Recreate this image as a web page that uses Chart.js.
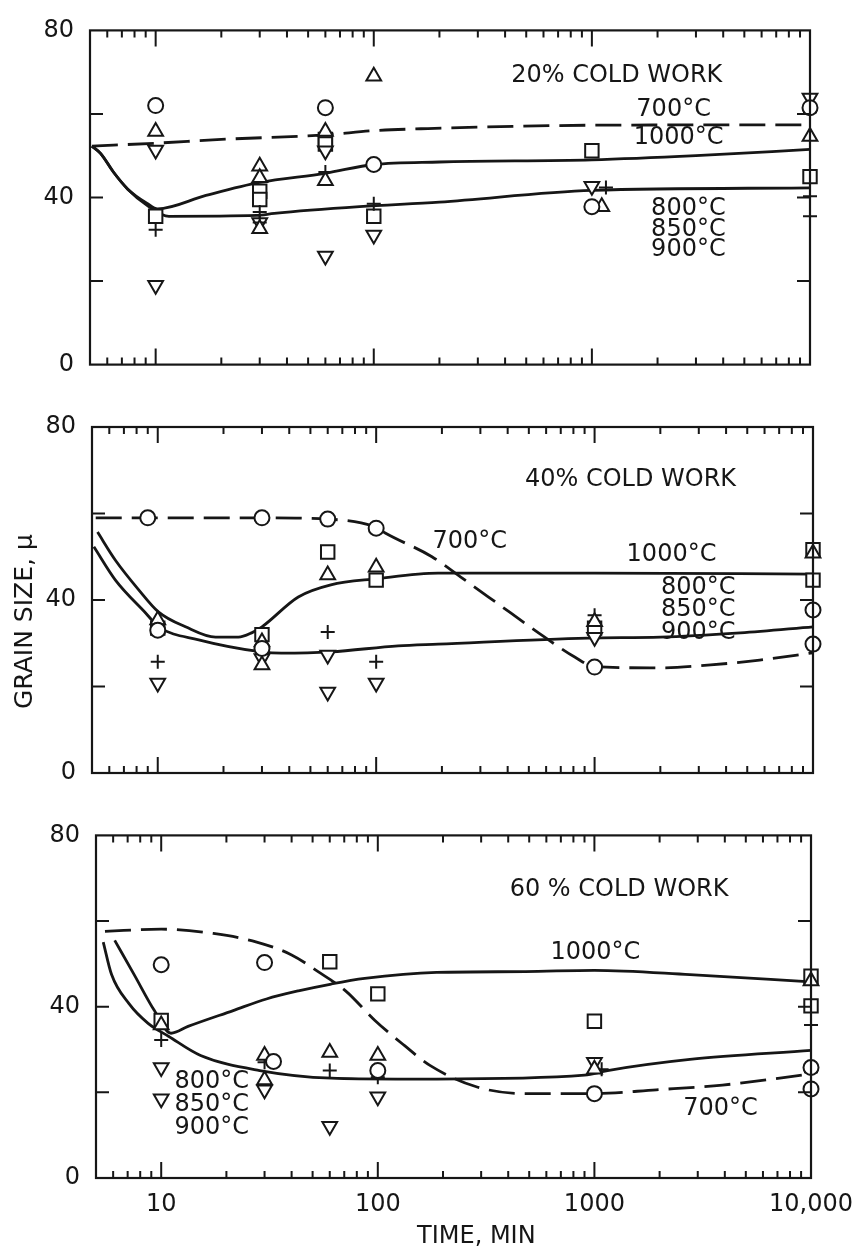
<!DOCTYPE html>
<html>
<head>
<meta charset="utf-8">
<script src="https://cdn.jsdelivr.net/npm/chart.js@4.4.1/dist/chart.umd.min.js"></script>
<style>
  html, body { margin: 0; padding: 0; background: #fff; }
  #wrap { position: relative; width: 865px; height: 1252px; overflow: hidden; }
  #wrap canvas { position: absolute; left: 0; }
</style>
</head>
<body>
<div id="wrap">
  <canvas id="cw20" width="865" height="395" style="top:0px"></canvas>
  <canvas id="cw40" width="865" height="410" style="top:395px"></canvas>
  <canvas id="cw60" width="865" height="447" style="top:805px"></canvas>
</div>
<script>
'use strict';

var ink = '#161616';
var fontFamily = '"DejaVu Sans", "Liberation Sans", sans-serif';

// axes: time in minutes (log), grain size in microns
var xTickLabels = [10, 100, 1000, 10000];
var xTickText = ['10', '100', '1000', '10,000'];
var yTickLabels = [0, 40, 80];
var yTickMarks = [20, 40, 60];

// ---- 20% cold work ----
var cw20Line700 = [[5.1, 52.3], [10, 53], [20, 53.9], [60, 55], [100, 56], [177, 56.5], [1000, 57.3], [10000, 57.4]];
var cw20Line1000 = [[5.1, 52.3], [5.6, 50.5], [6.4, 46.1], [7.45, 42], [9.2, 38.5], [10.2, 37.3], [17, 40.5], [30, 43.6],
  [60, 45.8], [100, 47.9], [200, 48.5], [1000, 49], [3000, 50], [10000, 51.5]];
var cw20Line800 = [[5.1, 52.3], [5.6, 50.5], [6.4, 46.1], [7.45, 42], [9.2, 38], [11.5, 35.5], [29, 35.7], [35, 36.2],
  [86, 37.8], [200, 38.9], [1000, 41.7], [10000, 42.3]];
var cw20Circle = [[10, 62], [60, 61.5], [100, 47.9], [1000, 37.8], [10000, 61.5]];
var cw20TriUp = [[10, 55.8], [30, 47.5], [30, 44.7], [30, 32.5], [60, 55.8], [60, 44], [100, 69], [1110, 37.8], [10000, 54.6]];
var cw20TriDown = [[10, 51.4], [10, 19], [30, 34], [60, 51.2], [60, 26], [100, 31], [1000, 42.7], [10000, 63.8]];
var cw20Square = [[10, 35.5], [30, 41.5], [30, 39.5], [60, 53.9], [60, 52.8], [100, 35.5], [1000, 51.2], [10000, 45]];
var cw20Plus = [[10, 32.3], [30, 36.5], [30, 34], [60, 46.1], [100, 38.5], [1160, 42.4], [10000, 60.4], [10000, 40.3], [10000, 35.5]];

// ---- 40% cold work ----
var cw40Line700 = [[5.2, 59], [9, 59], [30, 59], [60, 58.7], [100, 56.8], [110, 55.5], [180, 50], [244, 45.3], [413, 37],
  [591, 31.4], [811, 26.8], [1000, 24.6], [2000, 24.3], [3400, 25], [5700, 26.1], [10000, 27.8]];
var cw40Line1000 = [[5.3, 55.7], [6.4, 49.2], [8.2, 42.3], [10.1, 37.2], [13.4, 33.8], [18.4, 31.4], [23.4, 31.4], [26.9, 32.4],
  [30, 33.8], [44, 40.7], [62, 43.5], [100, 44.9], [192, 46.2], [1000, 46.2], [10000, 46]];
var cw40Line800 = [[5.1, 52.3], [6.4, 44.6], [8.8, 37], [10.1, 33.8], [15.4, 30.8], [30, 28], [36.8, 27.7], [62, 28],
  [126, 29.4], [192, 29.8], [930, 31.2], [2000, 31.4], [4650, 32.4], [10000, 33.8]];
var cw40Circle = [[9, 59], [30, 59], [60, 58.7], [100, 56.6], [10, 33], [30, 28.8], [1000, 24.5], [10000, 37.7], [10000, 29.8]];
var cw40TriUp = [[10, 35.4], [30, 30.3], [30, 25], [60, 45.8], [100, 47.6], [1000, 35], [10000, 50.8]];
var cw40TriDown = [[10, 20.8], [30, 26.5], [60, 27.3], [60, 18.7], [100, 20.8], [1000, 31.4]];
var cw40Square = [[10, 33.5], [30, 32], [60, 51.1], [100, 44.6], [1000, 33.5], [10000, 51.6], [10000, 44.6]];
var cw40Plus = [[10, 25.7], [30, 27.5], [60, 32.6], [100, 25.7], [1000, 36.5], [10000, 29.8]];

// ---- 60% cold work ----
var cw60Line700 = [[5.5, 57.6], [10, 58.1], [17.4, 57.1], [27.6, 55.1], [40, 52.1], [53, 48.2], [71, 43.7], [97, 36.8],
  [133, 30.9], [174, 26.3], [285, 21.3], [480, 19.7], [1000, 19.7], [1930, 20.6], [3900, 21.7], [10000, 24.3]];
var cw60Line1000 = [[6.1, 55.5], [7.5, 47.5], [9.3, 39.1], [11.1, 33.8], [13.3, 35.4], [21.5, 39.1], [30.6, 41.8], [43, 43.7],
  [61, 45.3], [87, 46.6], [187, 48], [480, 48.2], [1000, 48.5], [2760, 47.5], [10000, 45.8]];
var cw60Line800 = [[5.4, 55.1], [5.9, 47.5], [7.1, 40.7], [8.7, 36.1], [10.8, 33.1], [15.2, 28.6], [28.5, 25.1], [61, 23.3],
  [123, 23.1], [187, 23.1], [900, 24], [1150, 25.1], [2760, 27.7], [10000, 29.8]];
var cw60Circle = [[10, 49.8], [30, 50.3], [33, 27.2], [100, 25.1], [1000, 19.7], [10000, 25.8], [10000, 20.8]];
var cw60TriUp = [[10, 35.7], [30, 28.6], [30, 22.9], [60, 29.3], [100, 28.6], [1000, 25.4], [10000, 46]];
var cw60TriDown = [[10, 25.8], [10, 18.5], [30, 20.6], [60, 12.1], [100, 19], [1000, 27]];
var cw60Square = [[10, 36.8], [60, 50.5], [100, 43], [1000, 36.6], [10000, 47.1], [10000, 40.2]];
var cw60Plus = [[10, 32.2], [30, 27], [60, 25.1], [100, 23.5], [1080, 25.4], [10000, 35.7], [10000, 24.7]];

// text placed in data units (time, grain size)
var cw20Labels = [
  { text: '20% COLD WORK', t: 1300, v: 69.2 },
  { text: '700°C', t: 2370, v: 61.1 },
  { text: '1000°C', t: 2500, v: 54.2 },
  { text: '800°C', t: 2770, v: 37.3 },
  { text: '850°C', t: 2770, v: 32.3 },
  { text: '900°C', t: 2770, v: 27.4 }
];
var cw40Labels = [
  { text: '40% COLD WORK', t: 1460, v: 67.7 },
  { text: '700°C', t: 268, v: 53.4 },
  { text: '1000°C', t: 2250, v: 50.4 },
  { text: '800°C', t: 2985, v: 42.8 },
  { text: '850°C', t: 2985, v: 37.7 },
  { text: '900°C', t: 2985, v: 32.4 }
];
var cw60Labels = [
  { text: '60 % COLD WORK', t: 1300, v: 67.4 },
  { text: '1000°C', t: 1011, v: 52.6 },
  { text: '700°C', t: 3817, v: 16.2 },
  { text: '800°C', t: 17.1, v: 22.4 },
  { text: '850°C', t: 17.1, v: 17.1 },
  { text: '900°C', t: 17.1, v: 11.7 }
];

function toPoints(arr) {
  return arr.map(function(p) { return { x: p[0], y: p[1] }; });
}

function markerSet(label, data, style, rotation, radius) {
  return {
    label: label,
    data: toPoints(data),
    showLine: false,
    clip: false,
    pointStyle: style,
    pointRotation: rotation,
    pointRadius: radius,
    pointHoverRadius: radius,
    pointBorderWidth: 2,
    pointBorderColor: ink,
    pointBackgroundColor: '#fff'
  };
}

function curveSet(label, data, dash) {
  return {
    label: label,
    data: toPoints(data),
    showLine: true,
    clip: false,
    borderColor: ink,
    borderWidth: 2.8,
    borderDash: dash,
    pointRadius: 0,
    cubicInterpolationMode: 'monotone'
  };
}

var framePlugin = {
  id: 'frame',
  afterDraw: function(chart, args, opts) {
    var ctx = chart.ctx, a = chart.chartArea, xs = chart.scales.x, ys = chart.scales.y;
    ctx.save();
    ctx.strokeStyle = ink;
    ctx.lineWidth = 2.2;
    ctx.strokeRect(a.left, a.top, a.right - a.left, a.bottom - a.top);

    // inward tick marks on all four sides
    ctx.lineWidth = 2;
    ctx.beginPath();
    for (var d = 1; d <= 1000; d *= 10) {
      for (var k = 1; k <= 9; k++) {
        var v = k * d;
        if (v <= xs.min || v >= xs.max) continue;
        var px = xs.getPixelForValue(v), len = k === 1 ? 16 : 7;
        ctx.moveTo(px, a.bottom); ctx.lineTo(px, a.bottom - len);
        ctx.moveTo(px, a.top); ctx.lineTo(px, a.top + len);
      }
    }
    yTickMarks.forEach(function(v) {
      var py = ys.getPixelForValue(v);
      ctx.moveTo(a.left, py); ctx.lineTo(a.left + 13, py);
      ctx.moveTo(a.right, py); ctx.lineTo(a.right - 13, py);
    });
    ctx.stroke();

    ctx.fillStyle = ink;
    ctx.textAlign = 'center';
    ctx.textBaseline = 'middle';
    ctx.font = '24px ' + fontFamily;
    opts.labels.forEach(function(l) {
      ctx.fillText(l.text, xs.getPixelForValue(l.t), ys.getPixelForValue(l.v));
    });
    if (opts.grainTitle) {
      ctx.save();
      ctx.font = '25px ' + fontFamily;
      ctx.translate(25, ys.getPixelForValue(35));
      ctx.rotate(-Math.PI / 2);
      ctx.fillText('GRAIN SIZE, μ', 0, 0);
      ctx.restore();
    }
    if (opts.timeTitle) {
      ctx.fillText('TIME, MIN', xs.getPixelForValue(285), a.bottom + 59);
    }
    ctx.restore();
  }
};

function makePanel(p) {
  var datasets = [
    markerSet('700°C', p.circle, 'circle', 0, 7.5),
    markerSet('800°C', p.triUp, 'triangle', 0, 8.5),
    markerSet('850°C', p.plus, 'cross', 0, 7),
    markerSet('900°C', p.triDown, 'triangle', 180, 8.5),
    markerSet('1000°C', p.square, 'rect', 0, 9.5),
    curveSet('1000°C curve', p.line1000, []),
    curveSet('800-900°C curve', p.line800, []),
    curveSet('700°C curve', p.line700, [26, 10])
  ];

  return new Chart(document.getElementById(p.id), {
    type: 'scatter',
    data: { datasets: datasets },
    plugins: [framePlugin],
    options: {
      responsive: false,
      animation: false,
      devicePixelRatio: 1,
      events: [],
      layout: { padding: { top: p.top, right: 865 - p.right, bottom: 0, left: 0 } },
      plugins: {
        legend: { display: false },
        tooltip: { enabled: false },
        frame: { labels: p.labels, grainTitle: p.grainTitle, timeTitle: p.timeTitle }
      },
      scales: {
        x: {
          type: 'logarithmic',
          min: 5,
          max: 10000,
          grid: { display: false, drawTicks: false },
          border: { display: false },
          afterBuildTicks: function(scale) {
            scale.ticks = xTickLabels.map(function(v) { return { value: v }; });
          },
          afterFit: function(scale) { scale.height = p.xHeight; },
          ticks: {
            display: p.timeTitle,
            autoSkip: false,
            maxRotation: 0,
            padding: 12,
            color: ink,
            font: { family: fontFamily, size: 24 },
            callback: function(value) {
              var i = xTickLabels.indexOf(value);
              return i >= 0 ? xTickText[i] : '';
            }
          }
        },
        y: {
          min: 0,
          max: 80,
          grid: { display: false, drawTicks: false },
          border: { display: false },
          afterBuildTicks: function(scale) {
            scale.ticks = yTickLabels.map(function(v) { return { value: v }; });
          },
          afterFit: function(scale) { scale.width = p.left; },
          ticks: {
            padding: 16,
            color: ink,
            font: { family: fontFamily, size: 24 }
          }
        }
      }
    }
  });
}

makePanel({
  id: 'cw20', left: 90, right: 810, top: 20, xHeight: 28,
  line700: cw20Line700, line1000: cw20Line1000, line800: cw20Line800,
  circle: cw20Circle, triUp: cw20TriUp, triDown: cw20TriDown, square: cw20Square, plus: cw20Plus,
  labels: cw20Labels, grainTitle: false, timeTitle: false
});
makePanel({
  id: 'cw40', left: 92, right: 813, top: 32, xHeight: 32,
  line700: cw40Line700, line1000: cw40Line1000, line800: cw40Line800,
  circle: cw40Circle, triUp: cw40TriUp, triDown: cw40TriDown, square: cw40Square, plus: cw40Plus,
  labels: cw40Labels, grainTitle: true, timeTitle: false
});
makePanel({
  id: 'cw60', left: 96, right: 817, top: 23, xHeight: 74,
  line700: cw60Line700, line1000: cw60Line1000, line800: cw60Line800,
  circle: cw60Circle, triUp: cw60TriUp, triDown: cw60TriDown, square: cw60Square, plus: cw60Plus,
  labels: cw60Labels, grainTitle: false, timeTitle: true
});
</script>
</body>
</html>
